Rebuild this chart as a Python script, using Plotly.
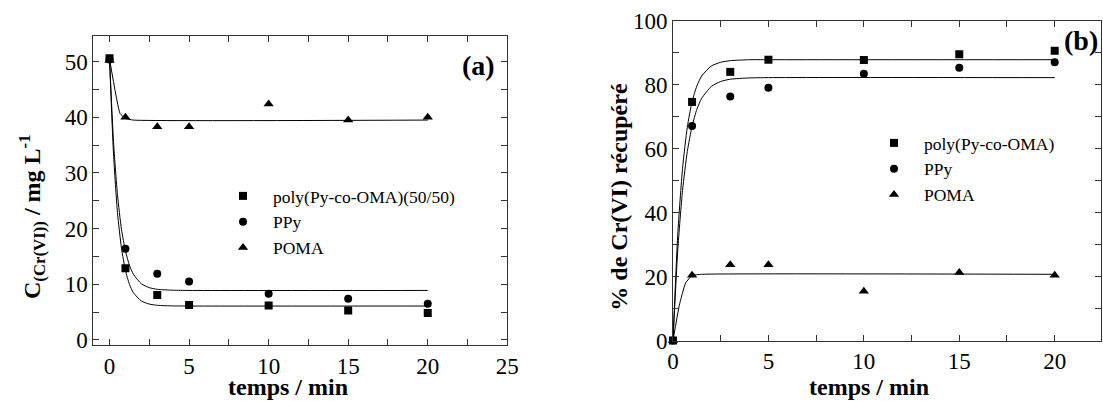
import plotly.graph_objects as go

# ---------------- data: panel (a) ----------------
t_a = [0, 1, 3, 5, 10, 15, 20]
c_copo = [50.6, 12.9, 8.1, 6.3, 6.2, 5.3, 4.85]
c_ppy = [50.4, 16.4, 11.9, 10.5, 8.3, 7.4, 6.5]
c_poma = [50.2, 40.0, 38.3, 38.3, 42.4, 39.5, 40.0]

fit_t_a = [0, 0.25, 0.5, 0.75, 1, 1.25, 1.5, 2, 2.5, 3, 4, 5, 20]
fit_copo_a = [50.5, 33.4, 22.9, 16.5, 12.5, 10.0, 8.5, 7.0, 6.45, 6.23, 6.12, 6.1, 6.1]
fit_ppy_a = [50.5, 35.6, 26.1, 19.9, 16.0, 13.45, 11.8, 10.1, 9.4, 9.1, 8.94, 8.9, 8.9]
fit_t_poma_a = [0, 0.66, 1.0, 1.5, 20]
fit_poma_a = [50.5, 40.7, 39.8, 39.5, 39.5]

# ---------------- data: panel (b) ----------------
t_b = [0, 1, 3, 5, 10, 15, 20]
r_copo = [0, 74.6, 84.0, 87.8, 87.7, 89.5, 90.6]
r_ppy = [0, 67.1, 76.3, 79.0, 83.4, 85.3, 87.0]
r_poma = [0, 20.4, 23.7, 23.7, 15.4, 21.3, 20.4]

fit_t_b = [0, 0.25, 0.5, 0.75, 1, 1.25, 1.5, 2, 2.5, 3, 4, 5, 20]
fit_copo_b = [0, 33.2, 53.8, 66.7, 74.7, 79.6, 82.7, 85.8, 87.0, 87.5, 87.8, 87.8, 87.8]
fit_ppy_b = [0, 28.3, 46.9, 59.1, 67.0, 72.3, 75.7, 79.4, 81.0, 81.7, 82.1, 82.2, 82.2]
fit_t_poma_b = [0, 0.33, 0.66, 1.0, 1.5, 20]
fit_poma_b = [0, 11, 18, 20.3, 20.7, 20.7]

names_a = ["poly(Py-co-OMA)(50/50)", "PPy", "POMA"]
names_b = ["poly(Py-co-OMA)", "PPy", "POMA"]
symbols = ["square", "circle", "triangle-up"]
msizes = [8, 8, 9]

FONT = "Liberation Serif"
W, H = 1103, 401

fig = go.Figure()

line = dict(color="black", width=1)
# fits panel (a)
for xs, ys, sm in [(fit_t_a, fit_copo_a, 0.6), (fit_t_a, fit_ppy_a, 0.6), (fit_t_poma_a, fit_poma_a, 0.4)]:
    fig.add_trace(go.Scatter(x=xs, y=ys, mode="lines", line=dict(shape="spline", smoothing=sm, **line),
                             showlegend=False, xaxis="x", yaxis="y", hoverinfo="skip"))
# fits panel (b)
for xs, ys, sm in [(fit_t_b, fit_copo_b, 0.6), (fit_t_b, fit_ppy_b, 0.6), (fit_t_poma_b, fit_poma_b, 0.4)]:
    fig.add_trace(go.Scatter(x=xs, y=ys, mode="lines", line=dict(shape="spline", smoothing=sm, **line),
                             showlegend=False, xaxis="x2", yaxis="y2", hoverinfo="skip", cliponaxis=False))

# markers panel (a)
for yv, nm, sy, ms in zip([c_copo, c_ppy, c_poma], names_a, symbols, msizes):
    fig.add_trace(go.Scatter(x=t_a, y=yv, mode="markers", name=nm,
                             marker=dict(symbol=sy, size=ms, color="black"),
                             xaxis="x", yaxis="y", legend="legend"))
# markers panel (b)
for yv, nm, sy, ms in zip([r_copo, r_ppy, r_poma], names_b, symbols, msizes):
    fig.add_trace(go.Scatter(x=t_b, y=yv, mode="markers", name=nm,
                             marker=dict(symbol=sy, size=ms, color="black"),
                             xaxis="x2", yaxis="y2", legend="legend2", cliponaxis=False))

ax_common = dict(showline=True, linecolor="#333", linewidth=1, mirror="ticks",
                 ticks="inside", ticklen=6, tickcolor="#333", showgrid=False, zeroline=False,
                 tickfont=dict(family=FONT, size=23, color="black"))


def ann(text, x, y, size=24, angle=0):
    return dict(text=text, x=x / W, y=1 - y / H, xref="paper", yref="paper",
                xanchor="center", yanchor="middle", textangle=angle,
                showarrow=False, font=dict(family=FONT, size=size, color="black"))


fig.update_layout(
    width=W, height=H, margin=dict(l=0, r=0, t=0, b=0, autoexpand=False),
    paper_bgcolor="white", plot_bgcolor="white",
    font=dict(family=FONT, color="black"),
    xaxis=dict(domain=[93.3 / W, 507.3 / W], range=[-1.02, 25], dtick=5, tick0=0,
               minor=dict(dtick=2.5, ticks="inside", ticklen=6, tickcolor="#333"),
               anchor="y", **ax_common),
    yaxis=dict(domain=[1 - 345 / H, 1 - 36 / H], range=[-0.9, 54.6], dtick=10, tick0=0,
               minor=dict(dtick=5, ticks="inside", ticklen=6, tickcolor="#333"),
               anchor="x", **ax_common),
    xaxis2=dict(domain=[673 / W, 1100.5 / W], range=[0, 22.4], dtick=5, tick0=0,
                minor=dict(dtick=2.5, ticks="inside", ticklen=6, tickcolor="#333"),
                anchor="y2", **ax_common),
    yaxis2=dict(domain=[1 - 340.5 / H, 1 - 20.7 / H], range=[0, 100], dtick=20, tick0=0,
                minor=dict(dtick=10, ticks="inside", ticklen=6, tickcolor="#333"),
                anchor="x2", **ax_common),
    legend=dict(x=213 / W, y=1 - 178 / H, xanchor="left", yanchor="top", itemwidth=50,
                bgcolor="rgba(0,0,0,0)", font=dict(family=FONT, size=17.5, color="black"),
                tracegroupgap=0),
    legend2=dict(x=864 / W, y=1 - 125 / H, xanchor="left", yanchor="top", itemwidth=50,
                 bgcolor="rgba(0,0,0,0)", font=dict(family=FONT, size=17.5, color="black"),
                 tracegroupgap=0),
    annotations=[
        ann("<b>(a)</b>", 478, 65, 28),
        ann("<b>(b)</b>", 1081, 41, 28),
        ann("<b>temps / min</b>", 287.8, 387),
        ann("<b>temps / min</b>", 869, 387),
        ann("<b>C<sub>(Cr(VI))</sub> / mg L<sup>-1</sup></b>", 32, 217, 24, -90),
        ann("<b>% de Cr(VI) récupéré</b>", 618.7, 197, 24, -90),
    ],
)

fig.write_html("out.html")
